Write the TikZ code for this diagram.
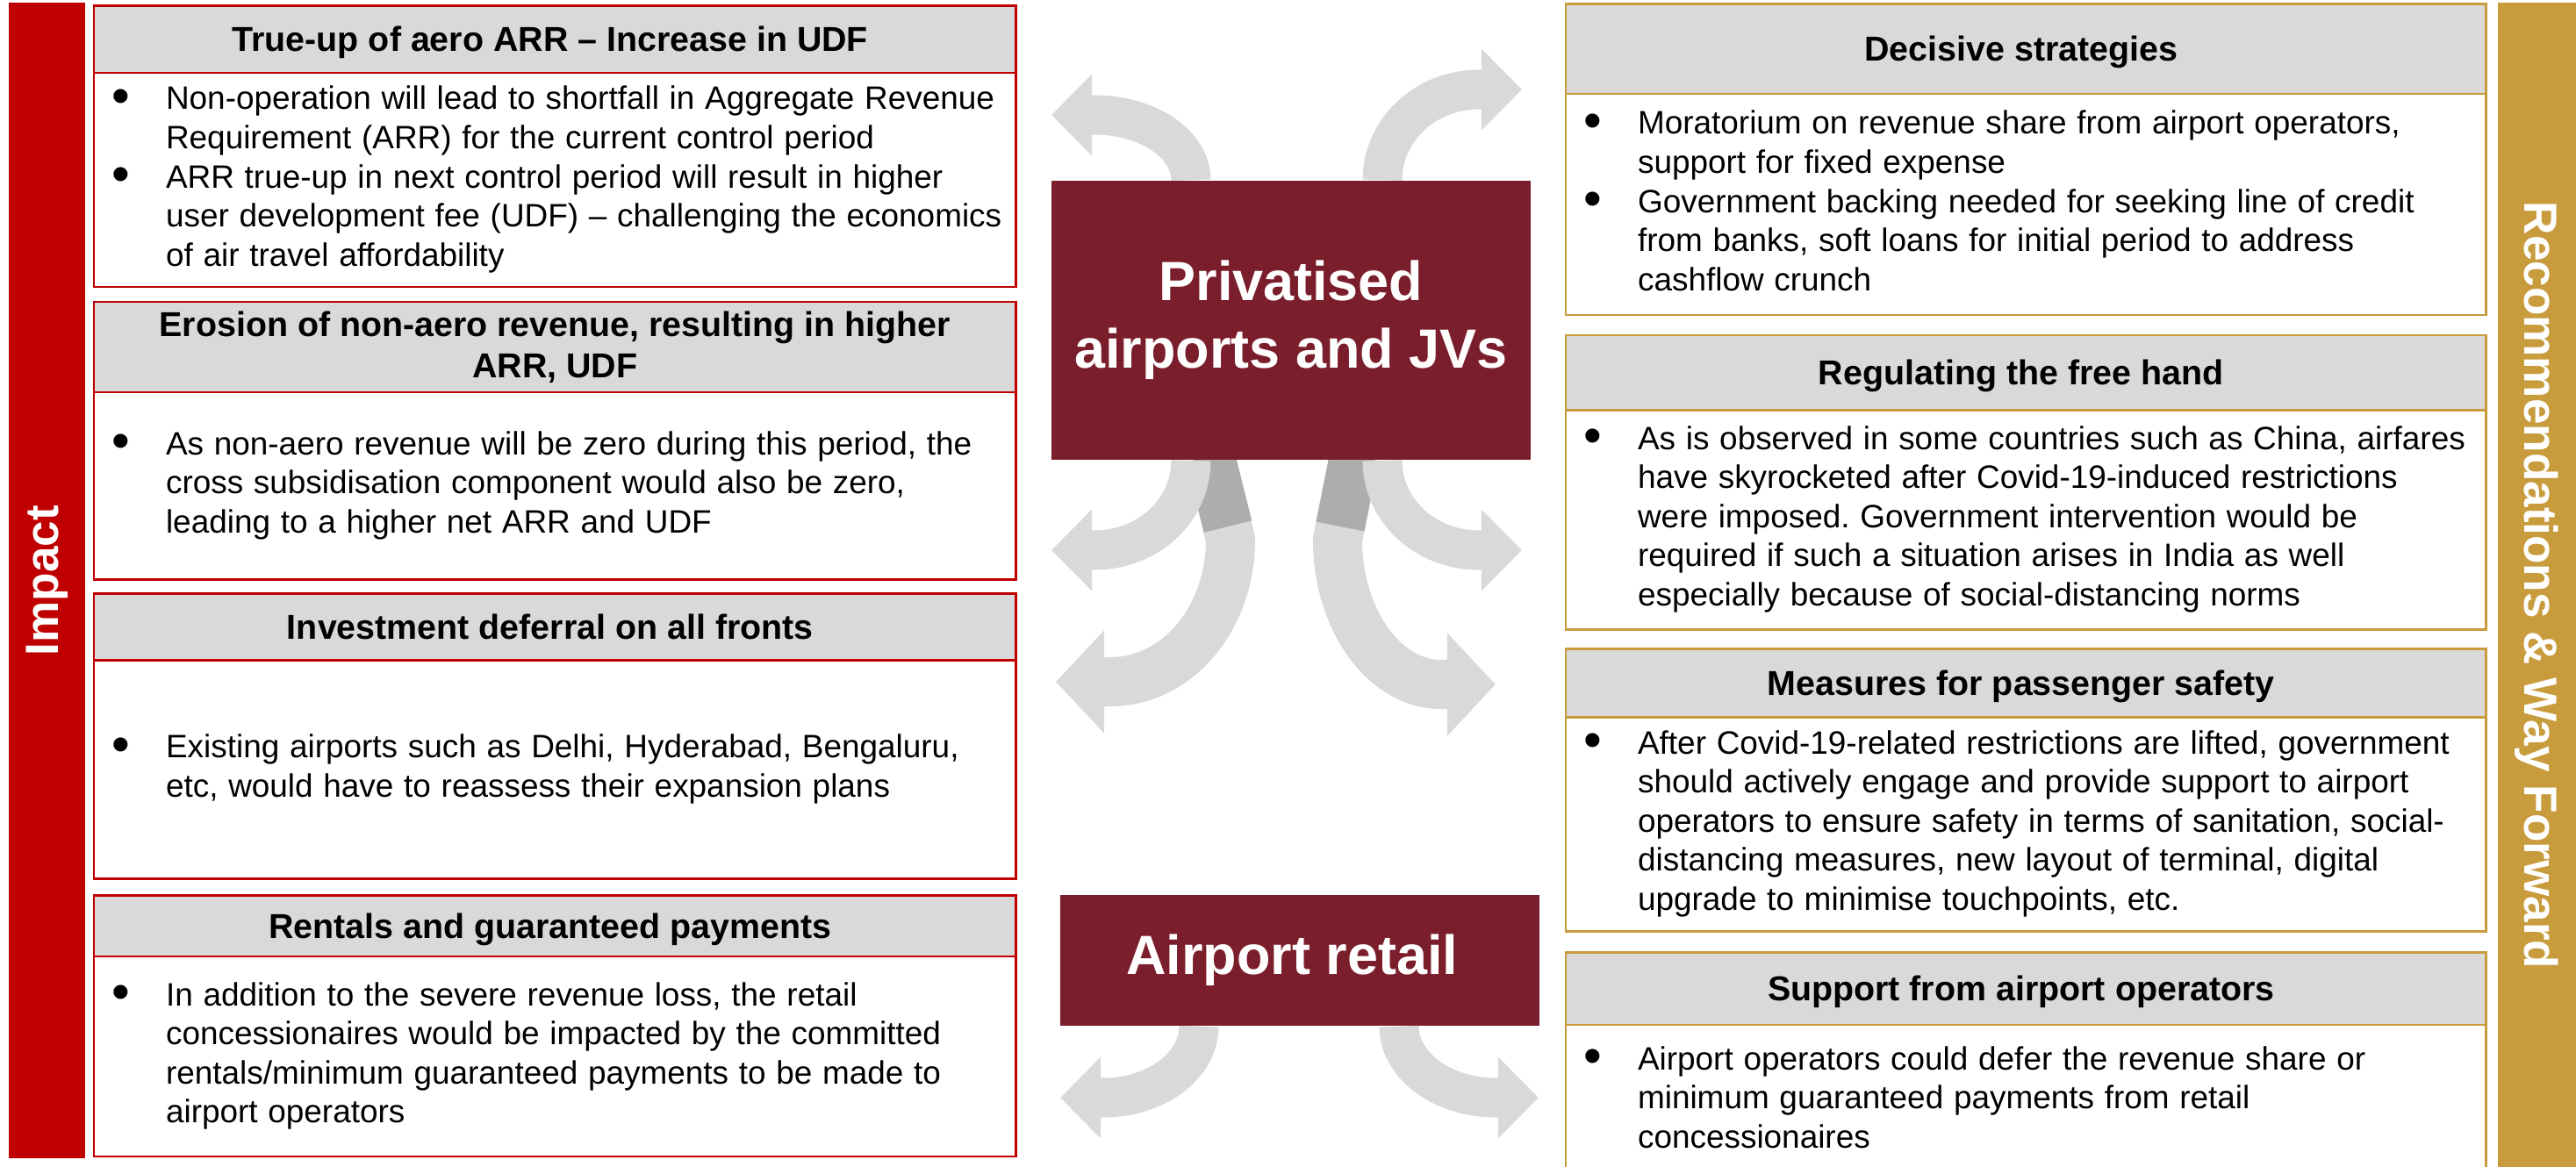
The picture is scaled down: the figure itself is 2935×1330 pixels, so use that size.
\documentclass[tikz,border=0pt]{standalone}
\usepackage{fontspec}
\setmainfont{Liberation Sans}
\usetikzlibrary{positioning,arrows.meta,backgrounds}
\frenchspacing

\definecolor{impactred}{RGB}{192,0,0}
\definecolor{waygold}{RGB}{200,156,61}
\definecolor{hubred}{RGB}{123,30,43}
\definecolor{headgray}{RGB}{217,217,217}
\definecolor{flowgray}{RGB}{217,217,217}
\definecolor{twistgray}{RGB}{173,173,173}

\newcommand{\bodyfont}{\fontsize{10.5}{12.66}\selectfont}
\newcommand{\bl}{\hspace{-0.04cm}\raisebox{-0.045cm}{\fontsize{16.8}{12}\selectfont\textbullet}}
\newcommand{\pts}[1]{\bodyfont\begin{tabular}{@{}p{0.58cm}@{}l@{}}#1\end{tabular}}

\begin{document}
\begin{tikzpicture}[x=0.01cm, y=-0.01cm,
	head/.style = { rectangle, line width=0.7pt, fill=headgray, outer sep=0pt,
	inner sep=0pt, align=center, text height=0.28cm, text depth=0cm,
	font=\fontsize{11.2}{13.4}\selectfont\bfseries },
	body/.style = { rectangle, line width=0.7pt, fill=white, outer sep=0pt,
	inner xsep=0.24cm, inner ysep=0pt, align=left },
	lhead/.style = { head, draw=impactred, minimum width=10.5cm },
	rhead/.style = { head, draw=waygold, minimum width=10.48cm },
	lbody/.style = { body, draw=impactred, text width=10.02cm },
	rbody/.style = { body, draw=waygold, text width=10cm },
	hub/.style = { rectangle, fill=hubred, text=white, align=center,
	minimum width=5.46cm, font=\fontsize{17.9}{21.9}\selectfont\bfseries },
	sidebar/.style = { rectangle, text=white, inner sep=0pt,
	font=\fontsize{15.1}{18}\selectfont\bfseries },
	flow/.style = { draw=flowgray, line width=0.45cm,
	-{Triangle[length=0.46cm, width=0.9cm]} },
	longflow/.style = { draw=flowgray, line width=0.56cm,
	-{Triangle[length=0.55cm, width=1.14cm]} },
	twist/.style = { draw=twistgray, line width=0.56cm } ]

  \useasboundingbox (0,0) rectangle (2935,1330);

  % side bars
  \node [name=impact, sidebar, fill=impactred, minimum width=13.17cm,
	minimum height=0.87cm, rotate=90] at (53.5,661.5) { Impact };
  \node [name=way, sidebar, fill=waygold, minimum width=13.27cm,
	minimum height=0.89cm, rotate=-90] at (2890.5,667)
	{ Recommendations \& Way Forward };

  % impact column
  \node [name=lhead1, lhead, minimum height=0.765cm, anchor=north west]
	at (107,6.5) { True-up of aero ARR – Increase in UDF };
  \node [name=lbody1, lbody, minimum height=2.44cm, below=0cm of lhead1]
	{ \pts{\bl & Non-operation will lead to shortfall in Aggregate Revenue\\
	& Requirement (ARR) for the current control period\\
	\bl & ARR true-up in next control period will result in higher\\
	& user development fee (UDF) – challenging the economics\\
	& of air travel affordability} };
  \node [name=lhead2, lhead, minimum height=1.03cm, text height=, text depth=,
	below=0.17cm of lbody1]
	{ Erosion of non-aero revenue, resulting in higher\\ ARR, UDF };
  \node [name=lbody2, lbody, minimum height=2.13cm, below=0cm of lhead2]
	{ \pts{\bl & As non-aero revenue will be zero during this period, the\\
	& cross subsidisation component would also be zero,\\
	& leading to a higher net ARR and UDF} };
  \node [name=lhead3, lhead, minimum height=0.76cm, below=0.16cm of lbody2]
	{ Investment deferral on all fronts };
  \node [name=lbody3, lbody, minimum height=2.49cm, below=0cm of lhead3]
	{ \pts{\bl & Existing airports such as Delhi, Hyderabad, Bengaluru,\\
	& etc, would have to reassess their expansion plans} };
  \node [name=lhead4, lhead, minimum height=0.695cm, below=0.19cm of lbody3]
	{ Rentals and guaranteed payments };
  \node [name=lbody4, lbody, minimum height=2.275cm, below=0cm of lhead4]
	{ \pts{\bl & In addition to the severe revenue loss, the retail\\
	& concessionaires would be impacted by the committed\\
	& rentals/minimum guaranteed payments to be made to\\
	& airport operators} };

  % way forward column
  \node [name=rhead1, rhead, minimum height=1.023cm, anchor=north west]
	at (1784,4.7) { Decisive strategies };
  \node [name=rbody1, rbody, minimum height=2.52cm, below=0cm of rhead1]
	{ \pts{\bl & Moratorium on revenue share from airport operators,\\
	& support for fixed expense\\
	\bl & Government backing needed for seeking line of credit\\
	& from banks, soft loans for initial period to address\\
	& cashflow crunch} };
  \node [name=rhead2, rhead, minimum height=0.85cm, below=0.23cm of rbody1]
	{ Regulating the free hand };
  \node [name=rbody2, rbody, minimum height=2.5cm, below=0cm of rhead2]
	{ \pts{\bl & As is observed in some countries such as China, airfares\\
	& have skyrocketed after Covid-19-induced restrictions\\
	& were imposed. Government intervention would be\\
	& required if such a situation arises in India as well\\
	& especially because of social-distancing norms} };
  \node [name=rhead3, rhead, minimum height=0.78cm, below=0.22cm of rbody2]
	{ Measures for passenger safety };
  \node [name=rbody3, rbody, minimum height=2.44cm, below=0cm of rhead3]
	{ \pts{\bl & After Covid-19-related restrictions are lifted, government\\
	& should actively engage and provide support to airport\\
	& operators to ensure safety in terms of sanitation, social-\\
	& distancing measures, new layout of terminal, digital\\
	& upgrade to minimise touchpoints, etc.} };
  \node [name=rhead4, rhead, minimum height=0.825cm, below=0.24cm of rbody3]
	{ Support from airport operators };
  \node [name=rbody4, rbody, minimum height=1.73cm, below=0cm of rhead4]
	{ \pts{\bl & Airport operators could defer the revenue share or\\
	& minimum guaranteed payments from retail\\
	& concessionaires} };

  % hubs
  \node [name=priv, hub, minimum height=3.18cm] at (1471,365)
	{ Privatised\\ airports and JVs };
  \node [name=retail, hub, minimum height=1.49cm] at (1481,1094.5)
	{ Airport retail };

  % arrow tips
  \coordinate (ultip) at (1198,131);
  \coordinate (urtip) at (1734,102);
  \coordinate (lltip) at (1198,627);
  \coordinate (lrtip) at (1734,627);
  \coordinate (lltipb) at (1203,777);
  \coordinate (lrtipb) at (1704,780);
  \coordinate (rltip) at (1208,1251);
  \coordinate (rrtip) at (1753,1251);

  \begin{scope}[on background layer]
  % long arrows, twisted near the box
  \draw [longflow] ([xshift=-0.92cm, yshift=0.05cm]priv.south) -- (1402,615)
	.. controls +(0,89) and +(77,0) .. (1265,777) -- (lltipb);
  \draw [longflow] ([xshift=0.72cm, yshift=0.05cm]priv.south) -- (1524,615)
	.. controls +(0,91) and +(-65,0) .. (1642,780) -- (lrtipb);
  \draw [twist] ([xshift=-0.92cm, yshift=0.05cm]priv.south) -- (1399,600);
  \draw [twist] ([xshift=0.72cm, yshift=0.05cm]priv.south) -- (1527,600);
  % short arrows
  \draw [flow] ([xshift=-1.14cm]priv.north)
	.. controls +(0,-41) and +(61,0) .. (1247,131) -- (ultip);
  \draw [flow] ([xshift=1.04cm]priv.north)
	.. controls +(0,-57) and +(-61,0) .. (1685,102) -- (urtip);
  \draw [flow] ([xshift=-1.14cm]priv.south)
	.. controls +(0,57) and +(61,0) .. (1247,627) -- (lltip);
  \draw [flow] ([xshift=1.04cm]priv.south)
	.. controls +(0,57) and +(-61,0) .. (1685,627) -- (lrtip);
  \draw [flow] ([xshift=-1.15cm]retail.south)
	.. controls +(0,45) and +(60,0) .. (1257,1251) -- (rltip);
  \draw [flow] ([xshift=1.13cm]retail.south)
	.. controls +(0,45) and +(-60,0) .. (1704,1251) -- (rrtip);
  \end{scope}
\end{tikzpicture}
\end{document}
